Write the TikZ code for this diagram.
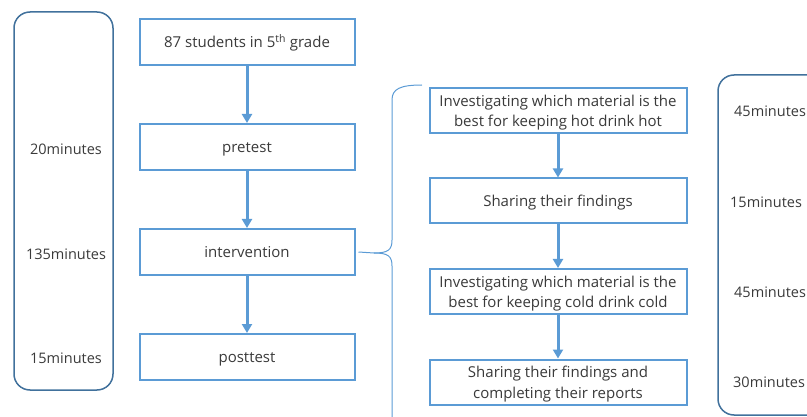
\documentclass[tikz,border=0pt]{standalone}
\usepackage{fontspec}
\setmainfont{Open Sans}
\usetikzlibrary{arrows.meta}
\definecolor{boxblue}{HTML}{5B9BD5}
\definecolor{roundblue}{HTML}{41719C}
\definecolor{txt}{HTML}{3A3A3A}
\newcommand{\lowtxt}[1]{\raisebox{-2pt}[\height][\depth]{\begin{tabular}{@{}c@{}}#1\end{tabular}}}
\tikzset{
  flowbox/.style={draw=boxblue, line width=2pt, fill=white, text=txt, minimum width=215pt, minimum height=46pt, inner sep=1pt, font=\fontsize{15}{20}\selectfont},
  subbox/.style={draw=boxblue, line width=2pt, fill=white, text=txt, minimum width=257pt, minimum height=45pt, inner sep=1pt, font=\fontsize{15}{20}\selectfont},
  arr/.style={draw=boxblue, line width=3pt, -{Triangle[length=9pt,width=10pt]}},
  timebox/.style={draw=roundblue, line width=1.5pt, rounded corners=16pt},
  timelabel/.style={text=txt, font=\fontsize{14.5}{18}\selectfont, inner sep=0pt},
  bracestyle/.style={draw=boxblue, line width=1pt}
}
\begin{document}
\begin{tikzpicture}[x=1pt,y=-1pt]
\useasboundingbox (0,0) rectangle (807,417);
\clip (0,0) rectangle (807,417);
% left time box
\node[timebox, minimum width=99pt, minimum height=378pt] (lt) at (63.5,201) {};
\node[timelabel] (t1) at (66,149) {20minutes};
\node[timelabel] (t2) at (66,254) {135minutes};
\node[timelabel] (t3) at (66,358) {15minutes};
% main flow
\node[flowbox] (n1) at (247,42) {\lowtxt{87 students in 5\textsuperscript{th} grade}};
\node[flowbox] (n2) at (247,147) {\lowtxt{pretest}};
\node[flowbox] (n3) at (247,252) {\lowtxt{intervention}};
\node[flowbox] (n4) at (247,357) {\lowtxt{posttest}};
\draw[arr] (n1) -- (n2);
\draw[arr] (n2) -- (n3);
\draw[arr] (n3) -- (n4);
% brace
\coordinate (bs) at ([xshift=3pt]n3.east);
\coordinate (bt) at (422,85);
\coordinate (bb) at (392,430);
\draw[bracestyle] (bs) -- (374,253) .. controls (388,253) and (392,250) .. (392,240) -- (392,100) .. controls (392,89) and (400,85) .. (bt);
\draw[bracestyle] (374,253) .. controls (388,253) and (392,256) .. (392,266) -- (bb);
% sub flow
\node[subbox] (s1) at (558,111) {\lowtxt{Investigating which material is the\\best for keeping hot drink hot}};
\node[subbox] (s2) at (558,201) {\lowtxt{Sharing their findings}};
\node[subbox] (s3) at (558,291.5) {\lowtxt{Investigating which material is the\\best for keeping cold drink cold}};
\node[subbox] (s4) at (558,382) {\lowtxt{Sharing their findings and\\completing their reports}};
\draw[arr] (s1) -- (s2);
\draw[arr] (s2) -- (s3);
\draw[arr] (s3) -- (s4);
% right time box
\node[timebox, minimum width=120pt, minimum height=340pt] (rt) at (778,245) {};
\node[timelabel, anchor=west] (r1) at (734,111) {45minutes};
\node[timelabel, anchor=west] (r2) at (730,202) {15minutes};
\node[timelabel, anchor=west] (r3) at (734,292) {45minutes};
\node[timelabel, anchor=west] (r4) at (733,382) {30minutes};
\end{tikzpicture}
\end{document}
